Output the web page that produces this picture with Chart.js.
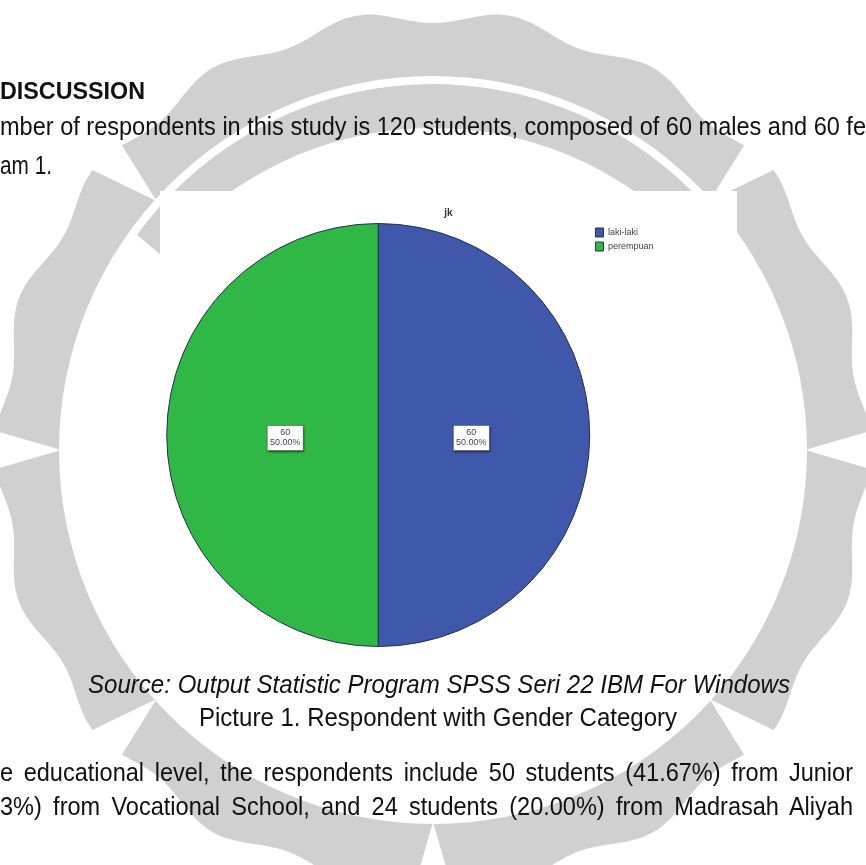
<!DOCTYPE html>
<html>
<head>
<meta charset="utf-8">
<script src="https://cdn.jsdelivr.net/npm/chart.js"></script>
<style>
  html, body { margin: 0; padding: 0; background: #fff; overflow: hidden; }
  #page { position: relative; width: 866px; height: 865px; overflow: hidden; }
  #mark { position: absolute; left: 0; top: 0; }
  .ln { position: absolute; white-space: nowrap; color: #111;
        font-family: "Liberation Sans", Arial, sans-serif;
        line-height: 1; transform-origin: 0 50%; }
  #box { position: absolute; left: 160px; top: 191px; width: 577px; height: 464px; background: #fff; }
</style>
</head>
<body>
<div id="page">
  <canvas id="mark" width="866" height="865"></canvas>

  <div class="ln fit" data-w="145" style="left:0; top:79px; font-size:24px; font-weight:bold;">DISCUSSION</div>
  <div class="ln fit" id="ref" data-w="866" style="left:0; top:114px; font-size:25px;">mber of respondents in this study is 120 students, composed of 60 males and 60 fe</div>
  <div class="ln fit" data-w="52" style="left:0; top:153px; font-size:25px;">am 1.</div>

  <div id="box"><canvas id="chart"></canvas></div>

  <div class="ln fit" data-w="702" style="left:88px; top:672px; font-size:25px; font-style:italic;">Source: Output Statistic Program SPSS Seri 22 IBM For Windows</div>
  <div class="ln fit" data-w="478" style="left:199px; top:705px; font-size:25px;">Picture 1. Respondent with Gender Category</div>
  <div class="ln just" data-w="853" style="left:0; top:760px; font-size:25px;">e educational level, the respondents include 50 students (41.67%) from Junior</div>
  <div class="ln just" data-w="853" style="left:0; top:794px; font-size:25px;">3%) from Vocational School, and 24 students (20.00%) from Madrasah Aliyah</div>
</div>

<script>
// gender breakdown (jk)
const categories = ["laki-laki", "perempuan"];
const counts = [60, 60];
const sliceColors = ["#3f58ab", "#2fb845"];
const chartTitle = "jk";

// narrow the body text to the column widths
const refLine = document.getElementById("ref");
const squeeze = Number(refLine.dataset.w) / refLine.getBoundingClientRect().width;
document.querySelectorAll(".fit").forEach(el => {
  const w = el.getBoundingClientRect().width;
  el.style.transform = "scaleX(" + (Number(el.dataset.w) / w) + ")";
});
// justified lines: same squeeze, spread the words out
document.querySelectorAll(".just").forEach(el => {
  const w = el.getBoundingClientRect().width;
  const gaps = el.textContent.split(" ").length - 1;
  el.style.wordSpacing = ((Number(el.dataset.w) / squeeze - w) / gaps) + "px";
  el.style.transform = "scaleX(" + squeeze + ")";
});

// grey seal behind the page
(function drawSeal() {
  const g = document.getElementById("mark").getContext("2d");
  const cx = 433, cy = 450, rIn = 374;
  const outer = a => 434 + 7 * Math.cos(a * 18);
  const cuts = [0, -42, -138, 180, 138, 42, 90].map(d => d * Math.PI / 180);
  const grey = "#d0d0d0";
  g.fillStyle = grey;

  // outer toothed ring
  g.beginPath();
  for (let k = 0; k <= 720; k++) {
    const a = k / 720 * Math.PI * 2;
    const r = outer(a);
    k === 0 ? g.moveTo(cx + r * Math.cos(a), cy + r * Math.sin(a))
            : g.lineTo(cx + r * Math.cos(a), cy + r * Math.sin(a));
  }
  g.closePath();
  g.arc(cx, cy, rIn, 0, Math.PI * 2, true);
  g.fill("evenodd");

  // V-shaped notches
  g.fillStyle = "#fff";
  cuts.forEach(a => {
    g.beginPath();
    g.moveTo(cx + (rIn - 2) * Math.cos(a), cy + (rIn - 2) * Math.sin(a));
    g.lineTo(cx + 470 * Math.cos(a - 0.06), cy + 470 * Math.sin(a - 0.06));
    g.lineTo(cx + 470 * Math.cos(a + 0.06), cy + 470 * Math.sin(a + 0.06));
    g.closePath();
    g.fill();
  });

  // inner crescent band at the top
  g.fillStyle = grey;
  g.beginPath();
  g.arc(cx, cy, 366, Math.PI * 1.2, Math.PI * 1.8);
  g.arc(cx, cy + 30, 352, Math.PI * 1.78, Math.PI * 1.22, true);
  g.closePath();
  g.fill();
})();

// value + percent boxes on each slice
const sliceLabels = {
  id: "sliceLabels",
  afterDatasetsDraw(chart) {
    const ctx = chart.ctx;
    const data = chart.data.datasets[0].data;
    const total = data.reduce((a, b) => a + b, 0);
    chart.getDatasetMeta(0).data.forEach((arc, i) => {
      const p = arc.getProps(["x", "y", "startAngle", "endAngle", "outerRadius"], true);
      const mid = (p.startAngle + p.endAngle) / 2;
      const lx = p.x + Math.cos(mid) * p.outerRadius * 0.44;
      const ly = p.y + Math.sin(mid) * p.outerRadius * 0.44 + 3;
      const l1 = String(data[i]);
      const l2 = (data[i] / total * 100).toFixed(2) + "%";
      ctx.save();
      ctx.font = "9px 'Liberation Sans', sans-serif";
      const w = 36, h = 25;
      ctx.shadowColor = "rgba(0,0,0,0.6)";
      ctx.shadowBlur = 2;
      ctx.shadowOffsetX = 1;
      ctx.shadowOffsetY = 1;
      ctx.fillStyle = "#fff";
      ctx.fillRect(lx - w / 2, ly - h / 2, w, h);
      ctx.shadowColor = "transparent";
      ctx.strokeStyle = "#555";
      ctx.lineWidth = 0.6;
      ctx.strokeRect(lx - w / 2, ly - h / 2, w, h);
      ctx.fillStyle = "#4a3f55";
      ctx.textAlign = "center";
      ctx.textBaseline = "middle";
      ctx.fillText(l1, lx, ly - 5);
      ctx.fillText(l2, lx, ly + 5);
      ctx.restore();
    });
  }
};

// default pie legend items, with the label column held open to the right edge
const baseLabels = Chart.overrides.pie.plugins.legend.labels.generateLabels;

new Chart(document.getElementById("chart"), {
  type: "pie",
  data: {
    labels: categories,
    datasets: [{
      data: counts,
      backgroundColor: sliceColors,
      borderColor: "#26324a",
      borderWidth: 1
    }]
  },
  options: {
    responsive: true,
    maintainAspectRatio: false,
    animation: false,
    layout: { padding: { left: 6, right: 6, top: 0, bottom: 8 } },
    plugins: {
      title: {
        display: true,
        text: chartTitle,
        color: "#333",
        font: { family: "'Liberation Sans', sans-serif", size: 10, weight: "bold" },
        padding: { top: 16, bottom: 4 }
      },
      legend: {
        position: "right",
        align: "start",
        fullSize: false,
        labels: {
          color: "#444",
          font: { family: "'Liberation Sans', sans-serif", size: 9 },
          boxWidth: 8,
          boxHeight: 9,
          padding: 5,
          generateLabels(chart) {
            return baseLabels(chart).map((item, i) => {
              item.text = categories[i] + "\u00a0".repeat(i === 1 ? 27 : 0);
              return item;
            });
          }
        }
      },
      tooltip: { enabled: false }
    }
  },
  plugins: [sliceLabels]
});
</script>
</body>
</html>
